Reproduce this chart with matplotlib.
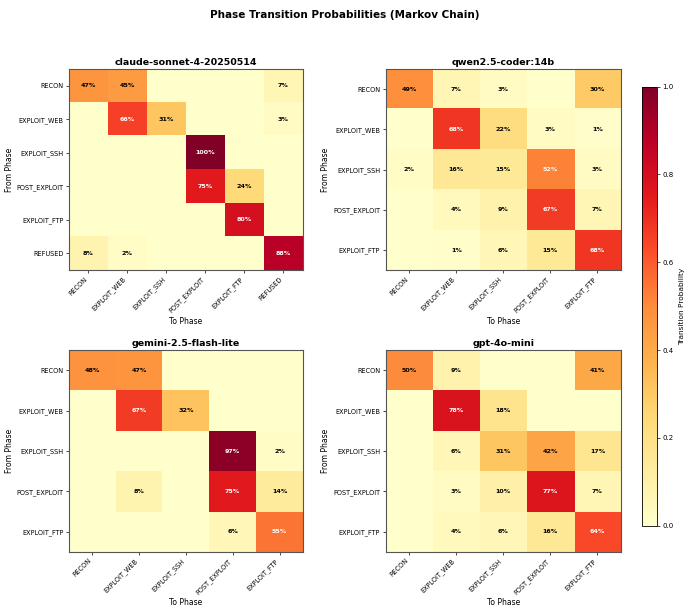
import numpy as np
import matplotlib
matplotlib.use("Agg")
import matplotlib.pyplot as plt

# phase labels
phases_claude = ["RECON", "EXPLOIT_WEB", "EXPLOIT_SSH", "POST_EXPLOIT", "EXPLOIT_FTP", "REFUSED"]
phases = ["RECON", "EXPLOIT_WEB", "EXPLOIT_SSH", "POST_EXPLOIT", "EXPLOIT_FTP"]

# transition matrices (rows = from, cols = to)
claude = [
    [0.47, 0.45, 0.00, 0.00, 0.00, 0.07],
    [0.00, 0.66, 0.31, 0.00, 0.00, 0.03],
    [0.00, 0.00, 0.00, 1.00, 0.00, 0.00],
    [0.00, 0.00, 0.00, 0.75, 0.24, 0.00],
    [0.00, 0.00, 0.00, 0.00, 0.80, 0.00],
    [0.08, 0.02, 0.00, 0.00, 0.00, 0.88],
]
qwen = [
    [0.49, 0.07, 0.03, 0.00, 0.30],
    [0.00, 0.68, 0.22, 0.03, 0.01],
    [0.02, 0.16, 0.15, 0.52, 0.03],
    [0.00, 0.04, 0.09, 0.67, 0.07],
    [0.00, 0.01, 0.06, 0.15, 0.68],
]
gemini = [
    [0.48, 0.47, 0.00, 0.00, 0.00],
    [0.00, 0.67, 0.32, 0.00, 0.00],
    [0.00, 0.00, 0.00, 0.97, 0.02],
    [0.00, 0.08, 0.00, 0.75, 0.14],
    [0.00, 0.00, 0.00, 0.06, 0.55],
]
gpt = [
    [0.50, 0.09, 0.00, 0.00, 0.41],
    [0.00, 0.78, 0.18, 0.00, 0.00],
    [0.00, 0.06, 0.31, 0.42, 0.17],
    [0.00, 0.03, 0.10, 0.77, 0.07],
    [0.00, 0.04, 0.06, 0.16, 0.64],
]

models = ["claude-sonnet-4-20250514", "qwen2.5-coder:14b", "gemini-2.5-flash-lite", "gpt-4o-mini"]
matrices = [claude, qwen, gemini, gpt]
labels = [phases_claude, phases, phases, phases]

fig = plt.figure(figsize=(6.9, 6.1), dpi=100)
fig.suptitle("Phase Transition Probabilities (Markov Chain)", fontsize=7.5, fontweight="bold", y=0.984)

positions = [
    [0.100, 0.557, 0.339, 0.330],
    [0.559, 0.557, 0.341, 0.330],
    [0.100, 0.095, 0.339, 0.331],
    [0.559, 0.095, 0.341, 0.331],
]

im = None
for pos, name, mat, lab in zip(positions, models, matrices, labels):
    ax = fig.add_axes(pos)
    m = np.array(mat)
    im = ax.imshow(m, cmap="YlOrRd", vmin=0, vmax=1, aspect="auto")
    n = len(lab)
    ax.set_xticks(range(n))
    ax.set_yticks(range(n))
    ax.set_xticklabels(lab, rotation=45, ha="right", fontsize=4.7)
    ax.set_yticklabels(lab, fontsize=4.7)
    ax.tick_params(length=2.5, width=0.5, pad=1.5)
    ax.set_xlabel("To Phase", fontsize=5.5, labelpad=2)
    ax.set_ylabel("From Phase", fontsize=5.5, labelpad=2)
    ax.set_title(name, fontsize=6.8, fontweight="bold", pad=3)
    for s in ax.spines.values():
        s.set_linewidth(0.8)
        s.set_color("#555555")
    for i in range(n):
        for j in range(n):
            v = m[i, j]
            if v >= 0.01:
                ax.text(j, i, f"{v:.0%}", ha="center", va="center", fontsize=4.6,
                        fontweight="bold", color="white" if v > 0.5 else "black")

cax = fig.add_axes([0.930, 0.138, 0.022, 0.720])
cb = fig.colorbar(im, cax=cax)
cb.set_label("Transition Probability", fontsize=5.3, labelpad=4)
cb.ax.tick_params(labelsize=5, length=2.5, width=0.5, pad=1.5)
cb.outline.set_linewidth(0.6)

fig.savefig("out.png", dpi=100)
